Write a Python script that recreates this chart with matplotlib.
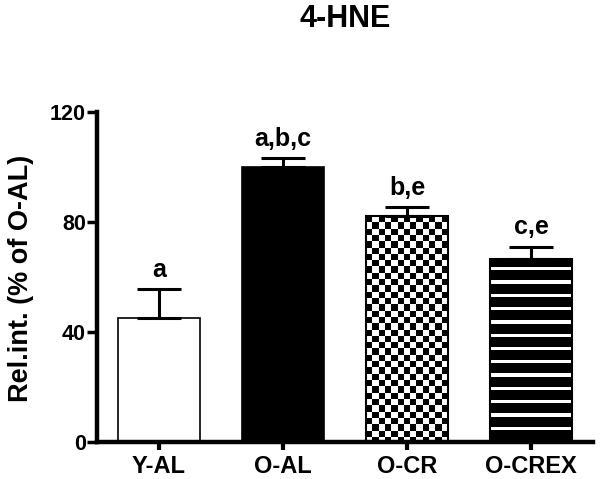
import numpy as np
import matplotlib
matplotlib.use("Agg")
import matplotlib.pyplot as plt

plt.rcParams['font.family'] = ['Liberation Sans', 'DejaVu Sans']
plt.rcParams['font.weight'] = 'bold'

# data
groups = ["Y-AL", "O-AL", "O-CR", "O-CREX"]
means = [45, 100, 82, 66.5]
sem = [10.5, 3.3, 3.3, 4.5]
letters = ["a", "a,b,c", "b,e", "c,e"]
yticks = [0, 40, 80, 120]

fig = plt.figure(figsize=(6.01, 4.79), dpi=100)
ax = fig.add_axes([97 / 601, 1 - 442 / 479, 496 / 601, 330 / 479])

x = np.arange(len(groups))
bars = ax.bar(x, means, width=0.66, color=["white", "black", "white", "white"],
              edgecolor="black", linewidth=1.2, zorder=2)
ax.errorbar(x, means, yerr=[np.zeros(len(sem)), sem], fmt="none", ecolor="black",
            elinewidth=2.2, capsize=15.5, capthick=2.2, zorder=3)

ax.set_xlim(-0.5, len(groups) - 0.5)
ax.set_ylim(0, 120)
ax.set_yticks(yticks)
ax.set_xticks(x)
ax.set_xticklabels(groups, fontsize=17, fontweight="bold")
ax.tick_params(axis="y", labelsize=15.5, width=2.5, length=7, pad=1, direction="out")
ax.tick_params(axis="x", width=3, length=6, pad=3.5, direction="out")
for lab in ax.get_yticklabels():
    lab.set_fontweight("bold")
for s in ["top", "right"]:
    ax.spines[s].set_visible(False)
for s in ["left", "bottom"]:
    ax.spines[s].set_linewidth(3.2)
    ax.spines[s].set_zorder(5)

# significance letters above the error bars
for xi, m, e, t in zip(x, means, sem, letters):
    ax.text(xi, m + e + 4.5, t, ha="center", va="baseline", fontsize=18, fontweight="bold")

# fill patterns via clipped images (checkerboard and horizontal stripes)
fig.canvas.draw()
px_per_unit = ax.transData.transform((0, 1))[1] - ax.transData.transform((0, 0))[1]

cr = bars[2]
bw_px = ax.transData.transform((cr.get_x() + cr.get_width(), 0))[0] - ax.transData.transform((cr.get_x(), 0))[0]
ncols = 13
cell = bw_px / ncols
nrows = int(np.ceil(cr.get_height() * px_per_unit / cell))
checker = (np.add.outer(np.arange(nrows), np.arange(ncols)) % 2).astype(float)
top = cr.get_height()
bottom = top - nrows * cell / px_per_unit
im = ax.imshow(checker, cmap="gray", interpolation="nearest", aspect="auto",
               extent=(cr.get_x(), cr.get_x() + cr.get_width(), bottom, top), zorder=2.1)
im.set_clip_path(cr)

crex = bars[3]
h_px = int(round(crex.get_height() * px_per_unit))
rows = np.arange(h_px)
period, white, offset = 13.3, 3.3, 7.5
stripes = np.where(((rows - offset) % period) < white, 1.0, 0.0)[:, None]
im2 = ax.imshow(stripes, cmap="gray", vmin=0, vmax=1, interpolation="nearest", aspect="auto",
                extent=(crex.get_x(), crex.get_x() + crex.get_width(), 0, crex.get_height()),
                zorder=2.1)
im2.set_clip_path(crex)
for b in bars[2:]:
    ax.bar(b.get_x() + b.get_width() / 2, b.get_height(), width=b.get_width(),
           fill=False, edgecolor="black", linewidth=1.5, zorder=2.2)

ax.set_xlim(-0.5, len(groups) - 0.5)
ax.set_ylim(0, 120)

fig.text(345 / 601, 1 - 19 / 479, "4-HNE", ha="center", va="center", fontsize=22, fontweight="bold")
fig.text(21 / 601, 1 - 278 / 479, "Rel.int. (% of O-AL)", rotation=90, ha="center", va="center",
         fontsize=19.5, fontweight="bold")

fig.savefig("out.png", dpi=100)
